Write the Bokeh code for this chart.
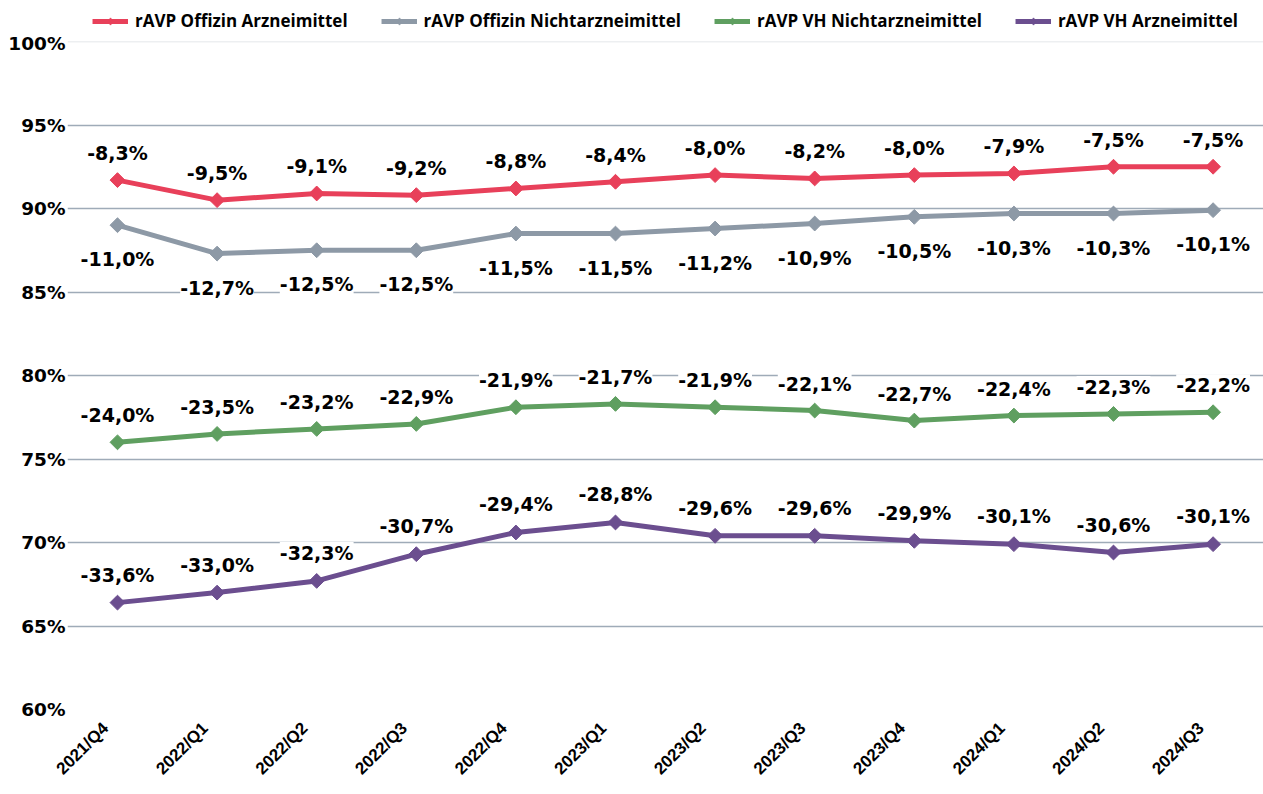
import numpy as np
from bokeh.plotting import figure
from bokeh.layouts import column
from bokeh.models import (ColumnDataSource, Range1d, FixedTicker, LabelSet,
                          Legend, LegendItem, Span)
from bokeh.core.properties import value
from bokeh.embed import file_html
from bokeh.resources import INLINE

quarters = ["2021/Q4", "2022/Q1", "2022/Q2", "2022/Q3", "2022/Q4", "2023/Q1",
            "2023/Q2", "2023/Q3", "2023/Q4", "2024/Q1", "2024/Q2", "2024/Q3"]

offizin_am = [91.7, 90.5, 90.9, 90.8, 91.2, 91.6, 92.0, 91.8, 92.0, 92.1, 92.5, 92.5]
offizin_am_lbl = ["-8,3%", "-9,5%", "-9,1%", "-9,2%", "-8,8%", "-8,4%", "-8,0%", "-8,2%", "-8,0%", "-7,9%", "-7,5%", "-7,5%"]

offizin_nam = [89.0, 87.3, 87.5, 87.5, 88.5, 88.5, 88.8, 89.1, 89.5, 89.7, 89.7, 89.9]
offizin_nam_lbl = ["-11,0%", "-12,7%", "-12,5%", "-12,5%", "-11,5%", "-11,5%", "-11,2%", "-10,9%", "-10,5%", "-10,3%", "-10,3%", "-10,1%"]

vh_nam = [76.0, 76.5, 76.8, 77.1, 78.1, 78.3, 78.1, 77.9, 77.3, 77.6, 77.7, 77.8]
vh_nam_lbl = ["-24,0%", "-23,5%", "-23,2%", "-22,9%", "-21,9%", "-21,7%", "-21,9%", "-22,1%", "-22,7%", "-22,4%", "-22,3%", "-22,2%"]

vh_am = [66.4, 67.0, 67.7, 69.3, 70.6, 71.2, 70.4, 70.4, 70.1, 69.9, 69.4, 69.9]
vh_am_lbl = ["-33,6%", "-33,0%", "-32,3%", "-30,7%", "-29,4%", "-28,8%", "-29,6%", "-29,6%", "-29,9%", "-30,1%", "-30,6%", "-30,1%"]

y_ticks = [60, 65, 70, 75, 80, 85, 90, 95, 100]
y_tick_labels = ["60%", "65%", "70%", "75%", "80%", "85%", "90%", "95%", "100%"]

series = [
    ("rAVP Offizin Arzneimittel", offizin_am, offizin_am_lbl, "#E8405A", 27),
    ("rAVP Offizin Nichtarzneimittel", offizin_nam, offizin_nam_lbl, "#8D99A6", -34),
    ("rAVP VH Nichtarzneimittel", vh_nam, vh_nam_lbl, "#5F9F60", 27),
    ("rAVP VH Arzneimittel", vh_am, vh_am_lbl, "#6B4E8F", 28),
]

x = list(range(len(quarters)))
x_label_pos = [i - 0.12 for i in x]

LEG_H = 32

# ---- legend strip (own small figure above the chart) ----
pl = figure(width=1263, height=LEG_H, output_backend="svg", toolbar_location=None,
            x_range=Range1d(0, 1), y_range=Range1d(0, 1),
            x_axis_type=None, y_axis_type=None,
            min_border_left=67, min_border_right=0, min_border_top=0,
            min_border_bottom=0)
pl.outline_line_color = None
pl.xgrid.visible = False
pl.ygrid.visible = False

# ---- main chart ----
p = figure(width=1263, height=794 - LEG_H, output_backend="svg", toolbar_location=None,
           x_range=Range1d(-0.502, 11.506), y_range=Range1d(60, 100),
           min_border_left=67, min_border_right=0, min_border_top=41 - LEG_H,
           min_border_bottom=85)
p.outline_line_color = None
p.background_fill_color = "white"
p.border_fill_color = "white"

p.xgrid.grid_line_color = None
p.ygrid.ticker = FixedTicker(ticks=y_ticks[:-1])
p.ygrid.grid_line_color = "#9FABB8"
p.ygrid.grid_line_width = 1.5
p.add_layout(Span(location=100, dimension="width", line_color="#DCDFE3", line_width=1.5))

p.yaxis.ticker = FixedTicker(ticks=y_ticks)
p.yaxis.major_label_overrides = {t: l for t, l in zip(y_ticks, y_tick_labels)}
p.yaxis.axis_line_color = None
p.yaxis.major_tick_line_color = None
p.yaxis.minor_tick_line_color = None
p.yaxis.major_tick_out = 0
p.yaxis.major_label_standoff = 2
p.yaxis.major_label_text_font = "DejaVu Sans"
p.yaxis.major_label_text_font_style = "bold"
p.yaxis.major_label_text_font_size = "18.5px"
p.yaxis.major_label_text_color = "black"

p.xaxis.ticker = FixedTicker(ticks=x_label_pos)
p.xaxis.major_label_overrides = {t: q for t, q in zip(x_label_pos, quarters)}
p.xaxis.axis_line_color = None
p.xaxis.major_tick_line_color = None
p.xaxis.minor_tick_line_color = None
p.xaxis.major_tick_out = 0
p.xaxis.major_label_standoff = 16
p.xaxis.major_label_orientation = np.pi / 4
p.xaxis.major_label_text_font = "Liberation Sans"
p.xaxis.major_label_text_font_style = "bold"
p.xaxis.major_label_text_font_size = "17px"
p.xaxis.major_label_text_color = "black"

items = []
for name, vals, lbls, color, off in series:
    src = ColumnDataSource(dict(x=x, y=vals, lbl=lbls))
    p.line("x", "y", source=src, line_color=color, line_width=5)
    p.scatter("x", "y", source=src, marker="square", angle=np.pi / 4,
              size=10.5, fill_color=color, line_color=color)
    ls = LabelSet(x="x", y="y", text="lbl", source=src, y_offset=off,
                  text_align="center", text_baseline="middle",
                  text_font=value("DejaVu Sans"), text_font_style="bold",
                  text_font_size="19px", text_color="black",
                  background_fill_color="white")
    p.add_layout(ls)
    # same series drawn in the legend strip (outside its visible range) for legend swatches
    llr = pl.line("x", "y", source=src, line_color=color, line_width=5)
    lsr = pl.scatter("x", "y", source=src, marker="diamond",
                     size=12, fill_color=color, line_color=color)
    items.append(LegendItem(label=name, renderers=[llr, lsr]))

legend = Legend(items=items, orientation="horizontal", location="bottom_center",
                glyph_width=36, glyph_height=18, label_standoff=7, spacing=33,
                padding=0, margin=0, border_line_color=None,
                background_fill_alpha=0,
                label_text_font="Open Sans", label_text_font_style="bold",
                label_text_font_size="17px", label_text_color="black",
                label_height=18)
pl.add_layout(legend, "center")

layout = column(pl, p, spacing=0)
open("out.html", "w").write(file_html(layout, INLINE))
